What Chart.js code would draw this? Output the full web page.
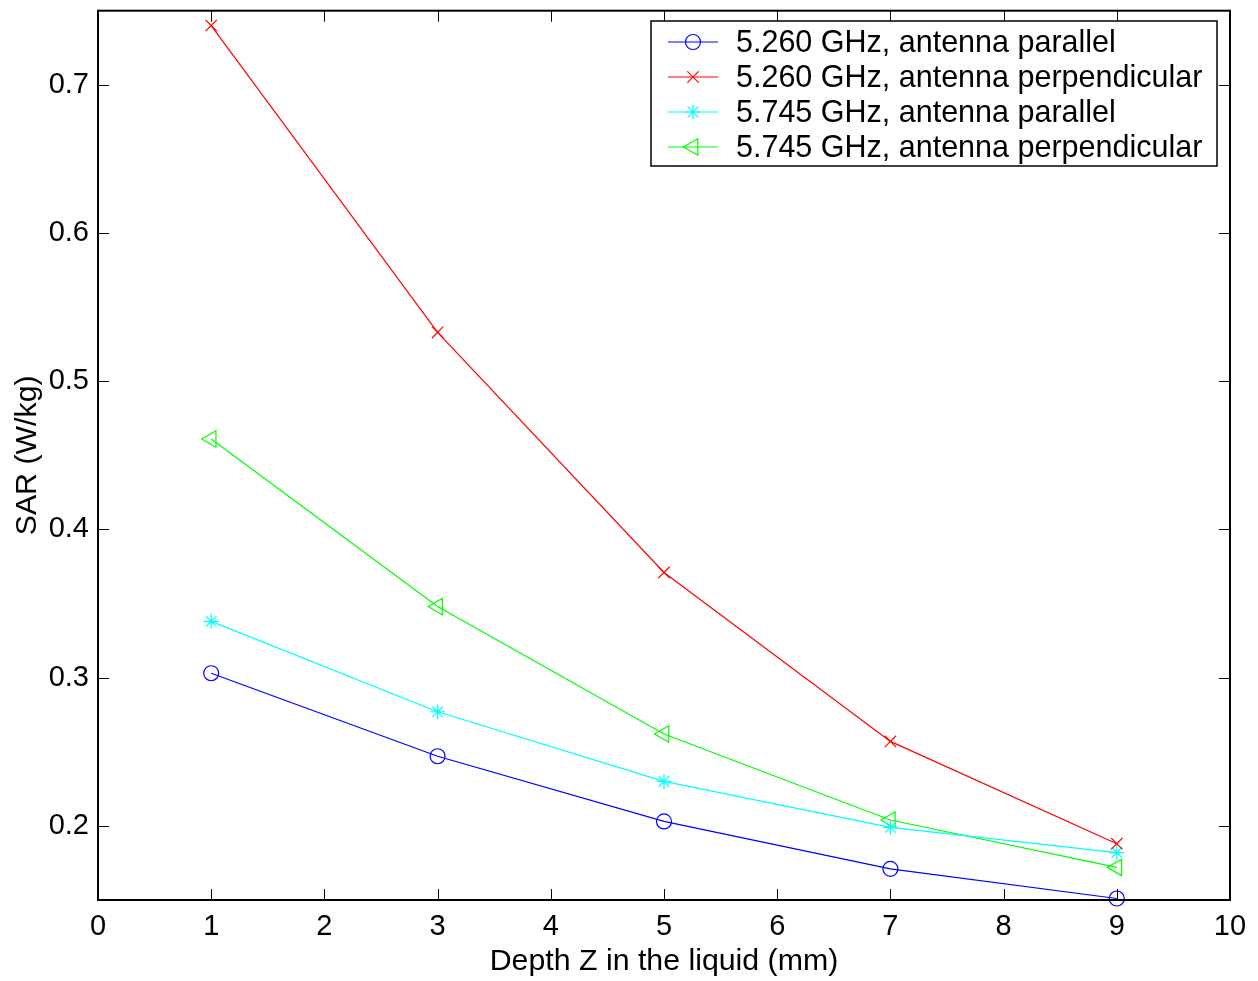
<!DOCTYPE html>
<html>
<head>
<meta charset="utf-8">
<script src="https://cdn.jsdelivr.net/npm/chart.js@4.4.1/dist/chart.umd.min.js"></script>
<style>
  html, body { margin: 0; padding: 0; background: #fff; }
</style>
</head>
<body>
<canvas id="c" width="1258" height="981"></canvas>
<script>
// data
const depth = [1, 3, 5, 7, 9];
const sar5260Par = [0.303, 0.247, 0.203, 0.171, 0.151];
const sar5260Perp = [0.740, 0.533, 0.371, 0.257, 0.188];
const sar5745Par = [0.338, 0.277, 0.230, 0.199, 0.182];
const sar5745Perp = [0.461, 0.348, 0.262, 0.204, 0.172];
const seriesLabels = ['5.260 GHz, antenna parallel', '5.260 GHz, antenna perpendicular',
                      '5.745 GHz, antenna parallel', '5.745 GHz, antenna perpendicular'];
const xTicks = [0, 1, 2, 3, 4, 5, 6, 7, 8, 9, 10];
const yTicks = [0.2, 0.3, 0.4, 0.5, 0.6, 0.7];

const FONT = "'Liberation Sans', Arial, Helvetica, sans-serif";

function mk(label, vals, color, style, radius, rot) {
  return {
    label, data: depth.map((d, i) => ({x: d, y: vals[i]})),
    borderColor: color, borderWidth: 1.2,
    pointStyle: style, pointRadius: radius, pointRotation: rot || 0,
    pointBorderColor: color, pointBackgroundColor: 'rgba(0,0,0,0)', pointBorderWidth: 1.2,
    tension: 0, clip: false
  };
}

// MATLAB style box with inward ticks on all four sides
const boxTicks = {
  id: 'boxTicks',
  afterDatasetsDraw(chart) {
    const {ctx, chartArea: {left, right, top, bottom}, scales: {x, y}} = chart;
    ctx.save();
    ctx.strokeStyle = '#000';
    ctx.lineWidth = 1;
    const seg = (a, b, c, d) => { ctx.beginPath(); ctx.moveTo(a, b); ctx.lineTo(c, d); ctx.stroke(); };
    xTicks.forEach(v => {
      const px = Math.round(x.getPixelForValue(v)) + 0.5;
      seg(px, bottom, px, bottom - 11);
      seg(px, top, px, top + 11);
    });
    yTicks.forEach(v => {
      const py = Math.round(y.getPixelForValue(v)) + 0.5;
      seg(left, py, left + 11, py);
      seg(right, py, right - 11, py);
    });
    ctx.lineWidth = 2;
    ctx.strokeRect(left, top, right - left, bottom - top);
    ctx.restore();
  }
};

// legend box: line sample with marker in the middle
const boxLegend = {
  id: 'boxLegend',
  afterDraw(chart) {
    const ctx = chart.ctx;
    const bx = 651, by = 21, bw = 566, bh = 145, rowH = 35, row0 = 42;
    ctx.save();
    ctx.fillStyle = '#fff';
    ctx.fillRect(bx, by, bw, bh);
    ctx.strokeStyle = '#000';
    ctx.lineWidth = 1.5;
    ctx.strokeRect(bx, by, bw, bh);
    chart.data.datasets.forEach((ds, i) => {
      const cy = row0 + i * rowH;
      ctx.strokeStyle = ds.borderColor;
      ctx.lineWidth = ds.borderWidth;
      ctx.beginPath(); ctx.moveTo(668, cy); ctx.lineTo(718, cy); ctx.stroke();
      ctx.fillStyle = 'rgba(0,0,0,0)';
      ctx.lineWidth = ds.pointBorderWidth;
      Chart.helpers.drawPoint(ctx, {pointStyle: ds.pointStyle, rotation: ds.pointRotation,
        radius: ds.pointRadius, borderWidth: ds.pointBorderWidth}, 693, cy);
      ctx.fillStyle = '#000';
      ctx.font = '30.5px ' + FONT;
      ctx.textBaseline = 'middle';
      ctx.textAlign = 'left';
      ctx.fillText(ds.label, 736, cy + 2);
    });
    ctx.restore();
  }
};

new Chart(document.getElementById('c').getContext('2d'), {
  type: 'line',
  data: {
    datasets: [
      mk(seriesLabels[0], sar5260Par, '#0000ff', 'circle', 7.5),
      mk(seriesLabels[1], sar5260Perp, '#ff0000', 'crossRot', 8),
      mk(seriesLabels[2], sar5745Par, '#00ffff', 'star', 7.5),
      mk(seriesLabels[3], sar5745Perp, '#00ff00', 'triangle', 9.5, -90)
    ]
  },
  options: {
    responsive: false,
    animation: false,
    devicePixelRatio: 1,
    layout: { padding: { top: 7, right: 28, left: 0, bottom: 0 } },
    plugins: { legend: { display: false }, tooltip: { enabled: false } },
    scales: {
      x: {
        type: 'linear', min: 0, max: 10,
        afterBuildTicks: s => { s.ticks = xTicks.map(v => ({value: v})); },
        afterFit: s => { s.height = 81; s.paddingLeft = 0; s.paddingRight = 0; },
        grid: { display: false, drawTicks: false },
        border: { display: false },
        ticks: { color: '#000', padding: 10, maxRotation: 0, font: { family: FONT, size: 29 } },
        title: { display: true, text: 'Depth Z in the liquid (mm)', color: '#000',
                 padding: { top: 0, bottom: 1 }, font: { family: FONT, size: 30.3 } }
      },
      y: {
        type: 'linear', min: 0.15, max: 0.75,
        afterBuildTicks: s => { s.ticks = yTicks.map(v => ({value: v})); },
        afterFit: s => { s.width = 98; s.paddingTop = 0; s.paddingBottom = 0; },
        grid: { display: false, drawTicks: false },
        border: { display: false },
        ticks: { color: '#000', padding: 9, font: { family: FONT, size: 29 },
                 callback: v => v.toFixed(1) },
        title: { display: true, text: 'SAR (W/kg)', color: '#000',
                 padding: { top: 9, bottom: 0 }, font: { family: FONT, size: 30.3 } }
      }
    }
  },
  plugins: [boxTicks, boxLegend]
});
</script>
</body>
</html>
